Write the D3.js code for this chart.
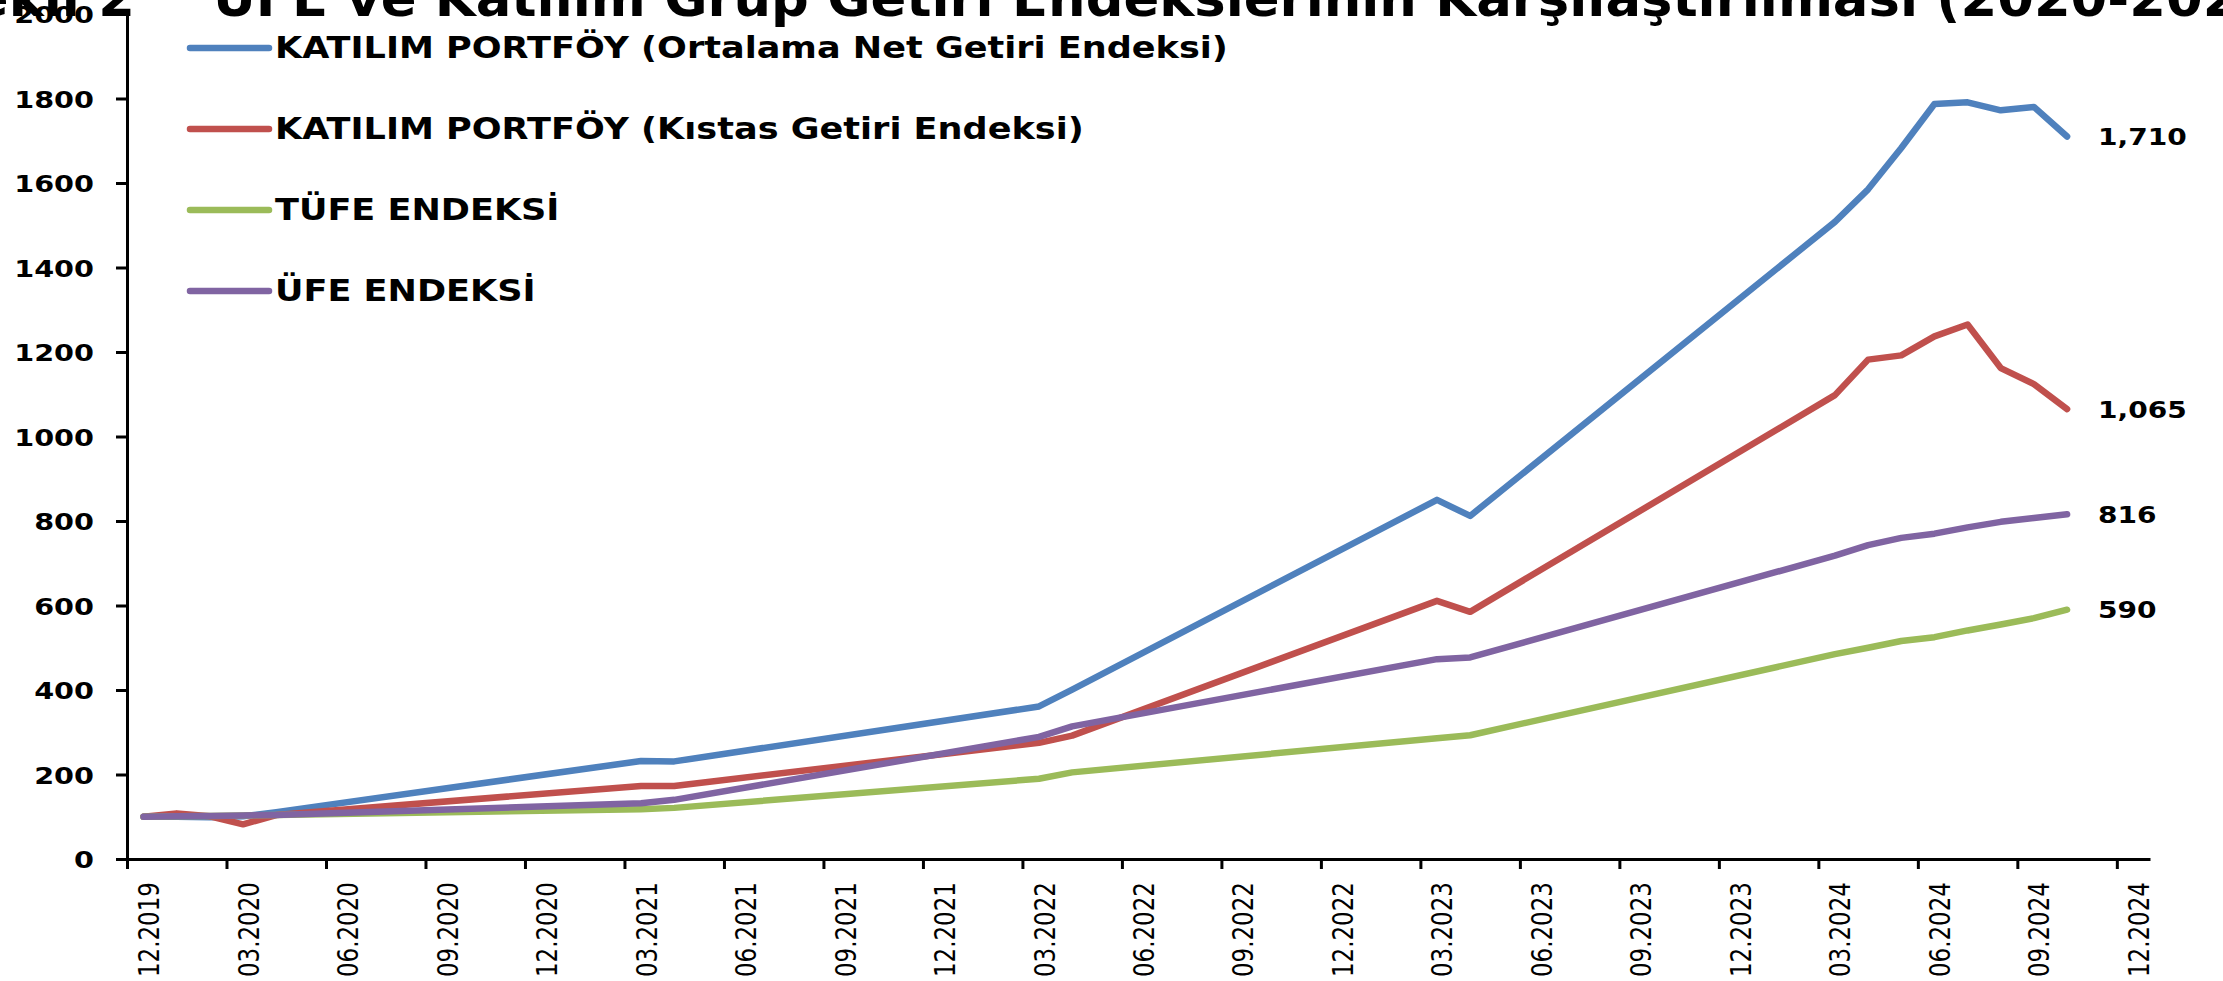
<!DOCTYPE html>
<html>
<head>
<meta charset="utf-8">
<script src="https://cdn.jsdelivr.net/npm/d3@7"></script>
<style>
  body { margin: 0; background: #fff; }
  svg { display: block; }
  text { font-family: "DejaVu Sans", sans-serif; fill: #000; }
</style>
</head>
<body>
<svg id="chart" width="2223" height="981"></svg>
<script>
// months that carry a value in the source sheet; the blank months in between
// are joined by a straight line (Excel "connect data points")
var pointMonths = ["12.2019", "01.2020", "02.2020", "03.2020", "04.2020",
                   "03.2021", "04.2021", "03.2022", "04.2022", "03.2023", "04.2023",
                   "03.2024", "04.2024", "05.2024", "06.2024", "07.2024", "08.2024",
                   "09.2024", "10.2024"];

var netGetiri    = [100, 100, 99, 101, 111, 232, 231, 361, 401, 850, 812,
                    1508, 1585, 1683, 1787, 1791, 1772, 1780, 1710];
var kistasGetiri = [100, 108, 101, 82, 104, 173, 173, 275, 292, 611, 585,
                    1098, 1182, 1192, 1237, 1265, 1162, 1124, 1065];
var tufe         = [100, 101, 102, 103, 104, 118, 121, 190, 205, 286, 293,
                    485, 500, 516, 525, 541, 555, 570, 590];
var ufe          = [100, 101, 102, 103, 104, 132, 140, 289, 314, 473, 477,
                    718, 743, 760, 770, 785, 798, 807, 816];

var seriesNames  = ["KATILIM PORTFÖY (Ortalama Net Getiri Endeksi)",
                    "KATILIM PORTFÖY (Kıstas Getiri Endeksi)",
                    "TÜFE ENDEKSİ",
                    "ÜFE ENDEKSİ"];
var seriesColors = ["#4F81BD", "#C0504D", "#9BBB59", "#8064A2"];

var tickLabels = ["12.2019", "03.2020", "06.2020", "09.2020", "12.2020", "03.2021",
                  "06.2021", "09.2021", "12.2021", "03.2022", "06.2022", "09.2022",
                  "12.2022", "03.2023", "06.2023", "09.2023", "12.2023", "03.2024",
                  "06.2024", "09.2024", "12.2024"];
var yTicks = [0, 200, 400, 600, 800, 1000, 1200, 1400, 1600, 1800, 2000];

var titleLead = "Şekil 2";
var titleText = "ÜFE ve Katılım Grup Getiri Endekslerinin Karşılaştırılması (2020-2024)";

// month position on the category axis, 12.2019 = 0
function monthIndex(s) {
  var p = s.split(".");
  return (+p[1] - 2019) * 12 + (+p[0] - 12);
}

var svg = d3.select("#chart");
var plotLeft = 127, plotRight = 2150, plotTop = 14, plotBottom = 859;

var nMonths = 61;
var x = d3.scaleLinear().domain([-0.5, nMonths - 0.5]).range([plotLeft, plotRight]);
var y = d3.scaleLinear().domain([0, 2000]).range([plotBottom, plotTop]);
var monthW = x(1) - x(0);

// title, only its lower part is inside the picture
svg.append("text")
   .attr("transform", "translate(213,16) scale(1.015,1)")
   .attr("font-size", 52).attr("font-weight", "bold")
   .text(titleText);
svg.append("text")
   .attr("transform", "translate(135,16) scale(1.015,1)")
   .attr("font-size", 52).attr("font-weight", "bold")
   .attr("text-anchor", "end")
   .text(titleLead);

// y axis
var yAxis = svg.append("g")
   .attr("transform", "translate(" + plotLeft + ",0)")
   .call(d3.axisLeft(y).tickValues(yTicks).tickSize(11).tickSizeOuter(0).tickFormat(d3.format("d")));
yAxis.select(".domain").attr("stroke", "#000").attr("stroke-width", 3);
yAxis.selectAll(".tick line").attr("stroke", "#000").attr("stroke-width", 3);
yAxis.selectAll(".tick text")
   .attr("x", null).attr("dy", null)
   .attr("font-family", null).attr("font-size", 23.5).attr("font-weight", "bold")
   .attr("text-anchor", "end")
   .attr("transform", "translate(-33,8.5) scale(1.22,1)");

// x axis: ticks between the months, labels on the month
var xAxis = svg.append("g")
   .attr("transform", "translate(0," + plotBottom + ")")
   .call(d3.axisBottom(x)
     .tickValues(d3.range(0, nMonths, 3).map(function(i) { return i - 0.5; }))
     .tickFormat(function(d, i) { return tickLabels[i]; })
     .tickSize(10).tickSizeOuter(0));
xAxis.select(".domain").attr("stroke", "#000").attr("stroke-width", 3);
xAxis.selectAll(".tick line").attr("stroke", "#000").attr("stroke-width", 3);
xAxis.selectAll(".tick text")
   .attr("y", null).attr("dy", null)
   .attr("font-family", null).attr("font-size", 23)
   .attr("text-anchor", "end")
   .attr("transform", "translate(" + (monthW / 2 + 15) + ",23) scale(1.25,1) rotate(-90)");

// lines
var allSeries = [netGetiri, kistasGetiri, tufe, ufe];
var line = d3.line()
   .x(function(d) { return x(monthIndex(d.m)); })
   .y(function(d) { return y(d.v); });

allSeries.forEach(function(vals, k) {
  var pts = pointMonths.map(function(m, i) { return { m: m, v: vals[i] }; })
                       .filter(function(d) { return d.v != null; });
  svg.append("path")
     .datum(pts)
     .attr("fill", "none")
     .attr("stroke", seriesColors[k])
     .attr("stroke-width", 6.5)
     .attr("stroke-linejoin", "round")
     .attr("stroke-linecap", "round")
     .attr("d", line);

  var last = pts[pts.length - 1];
  svg.append("text")
     .attr("transform", "translate(" + (x(monthIndex(last.m)) + 31) + "," + (y(last.v) + 8.5) + ") scale(1.22,1)")
     .attr("font-size", 23).attr("font-weight", "bold")
     .text(d3.format(",")(last.v));
});

// legend
var legend = svg.append("g").attr("transform", "translate(190,48)");
seriesNames.forEach(function(name, k) {
  var g = legend.append("g").attr("transform", "translate(0," + (k * 81) + ")");
  g.append("line")
   .attr("x1", 0).attr("x2", 79).attr("y1", 0).attr("y2", 0)
   .attr("stroke", seriesColors[k]).attr("stroke-width", 6.5)
   .attr("stroke-linecap", "round");
  g.append("text")
   .attr("transform", "translate(85,10) scale(1.17,1)")
   .attr("font-size", 30).attr("font-weight", "bold")
   .text(name);
});
</script>
</body>
</html>
